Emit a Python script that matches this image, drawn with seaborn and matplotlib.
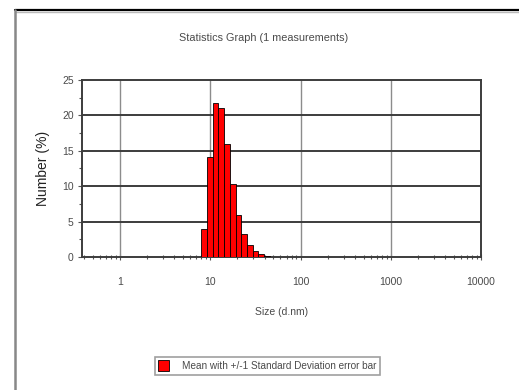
import numpy as np
import matplotlib
matplotlib.use("Agg")
import matplotlib.pyplot as plt
import seaborn as sns
from matplotlib.lines import Line2D
from matplotlib.patches import Patch
from matplotlib.ticker import LogLocator, MultipleLocator, FixedFormatter, FixedLocator

# Size classes (d.nm) - bin edges
bin_left = [7.94, 9.19, 10.6, 12.3, 14.2, 16.5, 19.1, 22.1, 25.5, 29.6, 34.2, 39.6]
bin_right = [9.19, 10.6, 12.3, 14.2, 16.5, 19.1, 22.1, 25.5, 29.6, 34.2, 39.6, 45.8]
number_pct = [4.0, 14.1, 21.7, 21.1, 15.9, 10.3, 5.9, 3.2, 1.65, 0.9, 0.4, 0.15]

x_ticks = [1, 10, 100, 1000, 10000]
x_ticklabels = ["1", "10", "100", "1000", "10000"]
y_ticks = [0, 5, 10, 15, 20, 25]

title = "Statistics Graph (1 measurements)"
legend_label = "Mean with +/-1 Standard Deviation error bar"

sns.set_style("white")
plt.rcParams["font.family"] = ["Liberation Sans Narrow", "Liberation Sans", "DejaVu Sans"]

fig = plt.figure(figsize=(5.19, 3.90), dpi=100)
ax = fig.add_axes([0.158, 0.341, 0.769, 0.454])

ax.set_xscale("log")
widths = np.array(bin_right) - np.array(bin_left)
ax.bar(bin_left, number_pct, width=widths, align="edge",
       color="#ff0000", edgecolor="black", linewidth=0.6, zorder=3)

ax.set_xlim(0.38, 10000)
ax.set_ylim(0, 25)

# grid
ax.set_xticks(x_ticks)
ax.xaxis.set_major_formatter(FixedFormatter(x_ticklabels))
ax.xaxis.set_minor_locator(LogLocator(base=10, subs=np.arange(2, 10)))
ax.xaxis.set_minor_formatter(plt.NullFormatter())
ax.yaxis.set_major_locator(FixedLocator(y_ticks))
ax.yaxis.set_minor_locator(MultipleLocator(2.5))
for v in x_ticks[:-1]:
    ax.axvline(v, color="#8c8c8c", linewidth=1.0, zorder=1)
for v in y_ticks[1:-1]:
    ax.axhline(v, color="#3c3c3c", linewidth=1.4, zorder=1)

for s in ax.spines.values():
    s.set_color("#3c3c3c")
    s.set_linewidth(1.4)

ax.tick_params(axis="x", which="both", direction="inout", length=4, width=0.8,
               color="#555555", labelsize=7.5, labelcolor="#4a4a4a", pad=12.5, bottom=True)
ax.tick_params(axis="x", which="minor", length=3)
ax.tick_params(axis="y", which="major", direction="out", length=3, width=0.8,
               color="#555555", labelsize=7.5, labelcolor="#4a4a4a", pad=3, left=True)
ax.tick_params(axis="y", which="minor", direction="out", length=2, width=0.8,
               color="#555555", left=True)

ax.set_xlabel("Size (d.nm)", fontsize=7.5, color="#4a4a4a", labelpad=14)
ax.set_ylabel("Number (%)", fontsize=10, color="#222222", labelpad=9)

fig.text(0.507, 0.903, title, fontsize=7.8, color="#4a4a4a", ha="center", va="center")

# legend
handle = Patch(facecolor="#ff0000", edgecolor="black", linewidth=0.6)
leg = fig.legend([handle], [legend_label], loc="center", bbox_to_anchor=(0.515, 0.062),
                 fontsize=7.2, frameon=True, fancybox=False, handlelength=1.1, handleheight=1.3,
                 handletextpad=1.3, borderpad=0.35)
leg.get_frame().set_edgecolor("#888888")
leg.get_frame().set_linewidth(1.2)
for t in leg.get_texts():
    t.set_color("#4a4a4a")

# outer frame
fig.add_artist(Line2D([14.5 / 519, 1.0], [1 - 9.5 / 390, 1 - 9.5 / 390],
                      transform=fig.transFigure, color="black", linewidth=1.6))
fig.add_artist(Line2D([14.5 / 519, 1.0], [1 - 11.5 / 390, 1 - 11.5 / 390],
                      transform=fig.transFigure, color="#bbbbbb", linewidth=1.0))
fig.add_artist(Line2D([14.5 / 519, 14.5 / 519], [0, 1 - 9.5 / 390],
                      transform=fig.transFigure, color="#888888", linewidth=1.8))

fig.savefig("out.png", dpi=100)
